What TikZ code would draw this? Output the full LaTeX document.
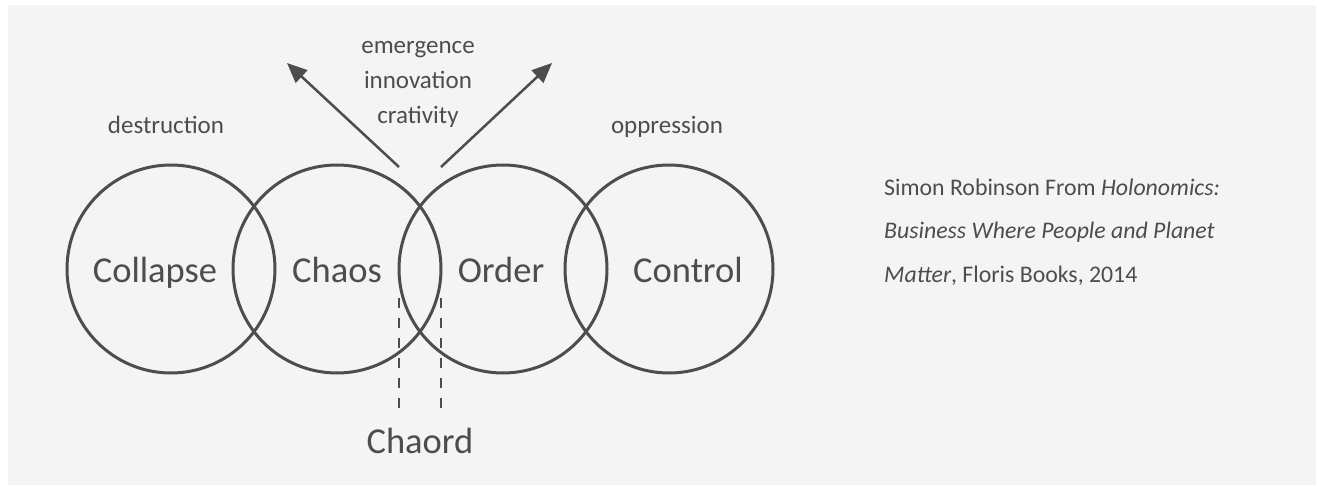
\documentclass[tikz,border=0pt]{standalone}
\usepackage{fontspec}
\setmainfont{Carlito}
\usetikzlibrary{arrows.meta,calc}
\definecolor{bg}{RGB}{243,244,243}
\definecolor{ink}{RGB}{77,77,77}
\begin{document}
\begin{tikzpicture}[x=1pt,y=-1pt,
  ring/.style={circle,draw=ink,line width=3pt,minimum size=208pt,inner sep=0pt,outer sep=0pt},
  big/.style={font=\fontsize{36.5}{40}\selectfont,text=ink,inner sep=0pt,anchor=base},
  small/.style={font=\fontsize{25}{30}\selectfont,text=ink,inner sep=0pt,anchor=base},
  cite/.style={font=\fontsize{23.8}{28}\selectfont,text=ink,inner sep=0pt,anchor=base west},
  pointer/.style={draw=ink,line width=2.5pt,-{Triangle[length=20pt,width=17pt]}},
  guide/.style={draw=ink,line width=2.3pt,dash pattern=on 10pt off 10pt}]
% canvas
\fill[white] (0,0) rectangle (1317,486);
\useasboundingbox (0,0) rectangle (1317,486);
\fill[bg] (8,5) rectangle (1316,485);

% the four overlapping circles
\node[ring] (collapse) at (171,269) {};
\node[ring] (chaos)    at (337,269) {};
\node[ring] (order)    at (503,269) {};
\node[ring] (control)  at (669,269) {};

% circle labels
\node[big] (lcollapse) at (155,283) {Collapse};
\node[big] (lchaos)    at (337,283) {Chaos};
\node[big] (lorder)    at (501,283) {Order};
\node[big] (lcontrol)  at (688,283) {Control};

% arrows rising from the chaos/order overlap
\coordinate (lstart) at ($(order.west)+(0,-102)$);
\coordinate (rstart) at ($(chaos.east)+(0,-102)$);
\coordinate (ltip) at (287,63);
\coordinate (rtip) at (552,63);
\draw[pointer] (lstart) -- (ltip);
\draw[pointer] (rstart) -- (rtip);

% dashed guides marking the chaordic band
\coordinate (g1a) at ($(order.west)+(0,29)$);
\coordinate (g1b) at ($(order.west)+(0,141)$);
\coordinate (g2a) at ($(chaos.east)+(0,29)$);
\coordinate (g2b) at ($(chaos.east)+(0,141)$);
\draw[guide] (g1a) -- (g1b);
\draw[guide] (g2a) -- (g2b);
\node[big] (chaord) at (420,453) {Chaord};

% small labels
\node[small] (emer) at (418,54)  {emergence};
\node[small] (inno) at (418,89)  {innovation};
\node[small] (crea) at (418,124) {crativity};
\node[small] (destr) at (166,134) {destruction};
\node[small] (oppr)  at (667,134) {oppression};

% citation
\node[cite] (c1) at (884,196) {Simon Robinson From \textit{Holonomics:}};
\node[cite] (c2) at (884,239) {\textit{Business Where People and Planet}};
\node[cite] (c3) at (884,283) {\textit{Matter}, Floris Books, 2014};
\end{tikzpicture}
\end{document}
